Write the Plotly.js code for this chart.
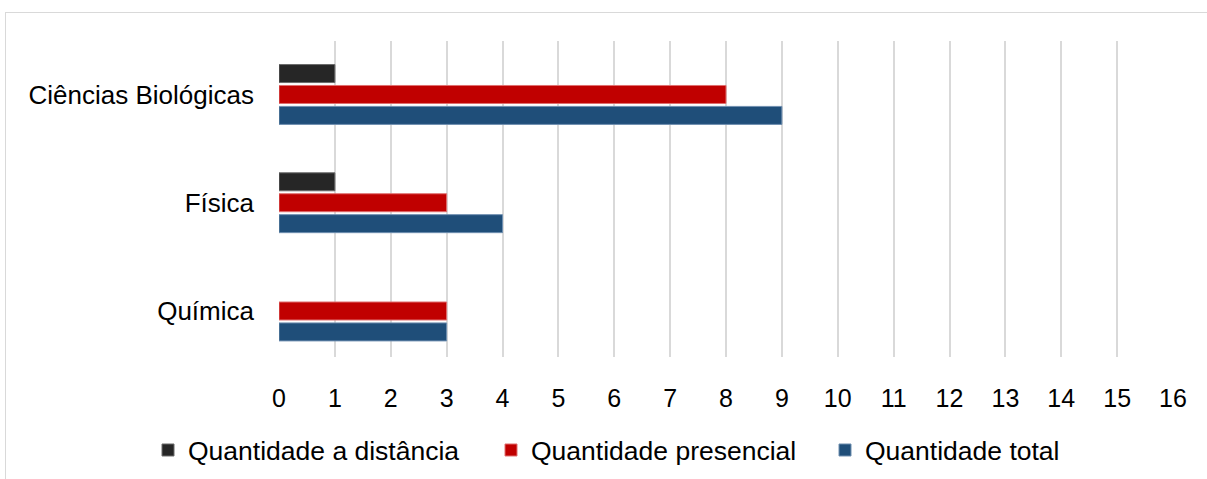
<!DOCTYPE html>
<html>
<head>
<meta charset="utf-8">
<script src="https://cdn.plot.ly/plotly-3.0.1.min.js"></script>
<style>
  html, body { margin: 0; padding: 0; background: #fff; overflow: hidden; }
  #frame { position: absolute; left: 5px; top: 12px; width: 1300px; height: 600px; border: 1.5px solid #d9d9d9; box-sizing: border-box; }
  #chart { position: absolute; left: 0; top: 0; width: 1207px; height: 479px; }
</style>
</head>
<body>
<div id="frame"></div>
<div id="chart"></div>
<script>
const categories = ["Ciências Biológicas", "Física", "Química"];
const seriesNames = ["Quantidade a distância", "Quantidade presencial", "Quantidade total"];
const distancia = [1, 1, 0];
const presencial = [8, 3, 3];
const total = [9, 4, 3];
const xTicks = [0,1,2,3,4,5,6,7,8,9,10,11,12,13,14,15,16];

const colors = ["#262626", "#c00000", "#1f4e79"];
const lineColors = ["#6b6b6b", "#e07070", "#6f8fb0"];
const values = [distancia, presencial, total];
const legendIds = ["legend", "legend2", "legend3"];
const legendX = [148, 491, 825];

const data = values.map((v, i) => ({
  type: "bar",
  orientation: "h",
  name: seriesNames[i],
  y: categories,
  x: v,
  legend: legendIds[i],
  marker: { color: colors[i], line: { color: lineColors[i], width: v.map(d => d === 0 ? 0 : 1) } },
  hoverinfo: "x+y"
}));

const layout = {
  width: 1207, height: 479,
  paper_bgcolor: "rgba(0,0,0,0)",
  plot_bgcolor: "rgba(0,0,0,0)",
  margin: { l: 279, r: 34, t: 41, b: 122 },
  barmode: "group",
  bargap: 0.42,
  bargroupgap: 0.14,
  font: { family: "Liberation Sans, Arial, sans-serif", color: "#000", size: 25 },
  xaxis: {
    range: [0, 16],
    tickvals: xTicks,
    ticktext: xTicks.map(String),
    showgrid: true, gridcolor: "#d9d9d9", gridwidth: 2,
    zeroline: false, showline: false, ticks: "",
    ticklabelstandoff: 24,
    tickfont: { size: 25, color: "#000" }
  },
  yaxis: {
    type: "category",
    range: [2.425, -0.494],
    showgrid: false, zeroline: false, showline: false, ticks: "",
    ticklabelstandoff: 24,
    tickfont: { size: 26, color: "#000" }
  },
  showlegend: true
};

legendIds.forEach((id, i) => {
  layout[id] = {
    orientation: "h",
    x: legendX[i] / 1207, xanchor: "left", xref: "container",
    y: 0.06, yanchor: "middle", yref: "container",
    font: { size: 26.5, color: "#000" },
    itemwidth: 30,
    bgcolor: "rgba(0,0,0,0)"
  };
});

Plotly.newPlot("chart", data, layout, { displayModeBar: false, responsive: false });
</script>
</body>
</html>
